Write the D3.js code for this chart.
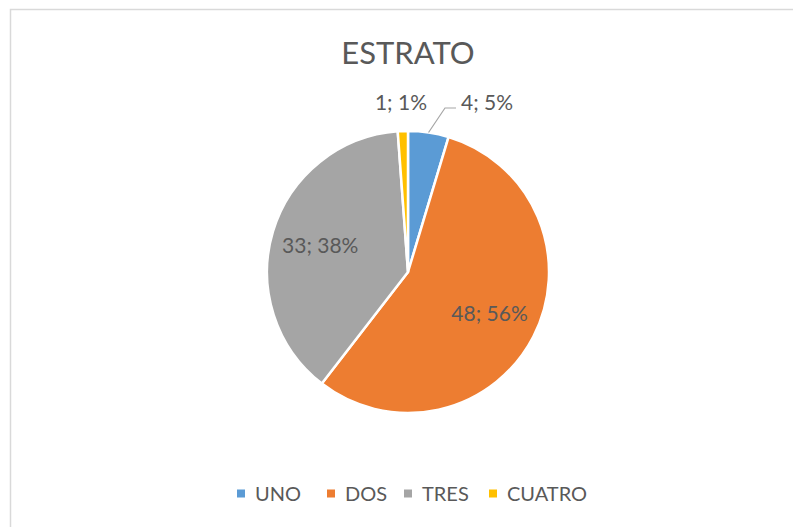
<!DOCTYPE html>
<html>
<head>
<meta charset="utf-8">
<script src="https://cdn.jsdelivr.net/npm/d3@7"></script>
<style>
  body { margin: 0; background: #fff; }
  text { font-family: Lato, 'Open Sans', sans-serif; fill: #595959; }
</style>
</head>
<body>
<div id="chart"></div>
<script>
// data
let categories = ['UNO', 'DOS', 'TRES', 'CUATRO']
let values = [4, 48, 33, 1]
let colors = ['#5B9BD5', '#ED7D31', '#A5A5A5', '#FFC000']
let title = 'ESTRATO'

let width = 793
let height = 527
let cx = 408
let cy = 272
let radius = 141

let svg = d3
  .select('#chart')
  .append('svg')
  .attr('width', width)
  .attr('height', height)

// chart border (runs off right and bottom)
svg
  .append('rect')
  .attr('x', 10.5)
  .attr('y', 9.5)
  .attr('width', 800)
  .attr('height', 540)
  .attr('fill', 'none')
  .attr('stroke', '#d9d9d9')
  .attr('stroke-width', 1.5)

svg
  .append('text')
  .attr('x', cx)
  .attr('y', 64)
  .attr('text-anchor', 'middle')
  .attr('font-size', 31)
  .text(title)

let total = d3.sum(values)
let data = categories.map((c, i) => ({ name: c, value: values[i], color: colors[i] }))

let pie = d3.pie().sort(null).value(d => d.value)
let arc = d3.arc().innerRadius(0).outerRadius(radius)
let labelArc = d3.arc().innerRadius(radius * 0.65).outerRadius(radius * 0.65)

let g = svg.append('g').attr('transform', `translate(${cx},${cy})`)
let arcs = pie(data)

g.selectAll('.slice')
  .data(arcs)
  .enter()
  .append('path')
  .attr('class', 'slice')
  .attr('d', arc)
  .attr('fill', d => d.data.color)
  .attr('stroke', '#fff')
  .attr('stroke-width', 2.5)
  .attr('stroke-linejoin', 'round')

let label = d => `${d.data.value}; ${Math.round((d.data.value / total) * 100)}%`

// big slices: label inside
g.selectAll('.inner-label')
  .data(arcs.filter(d => d.data.value / total > 0.1))
  .enter()
  .append('text')
  .attr('class', 'inner-label')
  .attr('transform', d => `translate(${labelArc.centroid(d)})`)
  .attr('text-anchor', 'middle')
  .attr('dy', '0.35em')
  .attr('font-size', 21)
  .text(label)

// small slices: label outside above the pie
let outside = arcs.filter(d => d.data.value / total <= 0.1)
let offsets = { UNO: { x: 53, anchor: 'start', leader: true }, CUATRO: { x: 19, anchor: 'end', leader: false } }

outside.forEach(d => {
  let o = offsets[d.data.name]
  g.append('text')
    .attr('x', o.x)
    .attr('y', -radius - 21)
    .attr('text-anchor', o.anchor)
    .attr('font-size', 21)
    .text(label(d))
  if (o.leader) {
    let mid = (d.startAngle + d.endAngle) / 2
    let p0 = [Math.sin(mid) * radius, -Math.cos(mid) * radius]
    let p1 = [o.x - 16, -radius - 23]
    let p2 = [o.x - 5, -radius - 23]
    g.append('polyline')
      .attr('points', [p0, p1, p2].map(p => p.join(',')).join(' '))
      .attr('fill', 'none')
      .attr('stroke', '#a6a6a6')
      .attr('stroke-width', 1.2)
  }
})

// legend
let legendX = [237, 327, 404, 489]
let legend = svg.append('g').attr('transform', 'translate(0, 494)')

legend
  .selectAll('.legend-entry')
  .data(data)
  .enter()
  .append('g')
  .attr('class', 'legend-entry')
  .attr('transform', (d, i) => `translate(${legendX[i]},0)`)
  .each(function(d) {
    let e = d3.select(this)
    e.append('rect')
      .attr('x', 0)
      .attr('y', -4.5)
      .attr('width', 8)
      .attr('height', 8)
      .attr('fill', d.color)
    e.append('text')
      .attr('x', 18)
      .attr('dy', '0.35em')
      .attr('font-size', 20)
      .text(d.name)
  })
</script>
</body>
</html>
